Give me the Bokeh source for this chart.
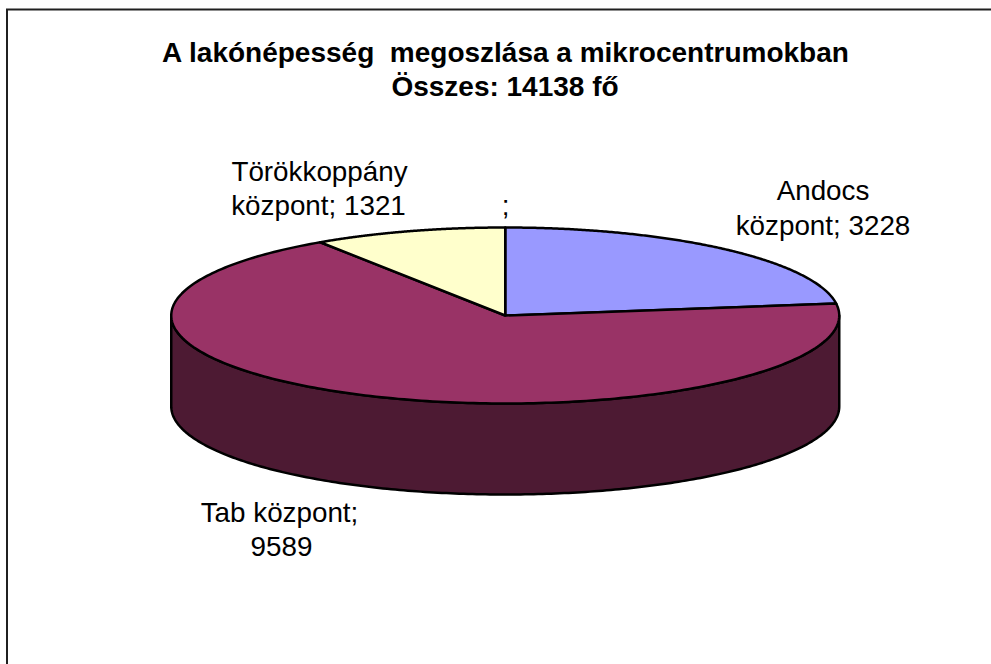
import numpy as np
from bokeh.plotting import figure
from bokeh.models import Range1d
from bokeh.core.properties import value
from bokeh.embed import file_html
from bokeh.resources import INLINE

categories = ["Andocs központ", "Tab központ", "Törökkoppány központ"]
values = [3228, 9589, 1321]
title_lines = ["A lakónépesség\u00a0 megoszlása a mikrocentrumokban", "Összes: 14138 fő"]
label_lines = [["Andocs", "központ; 3228"], ["Tab központ;", "9589"], ["Törökkoppány", "központ; 1321"], [";"]]
colors = ["#9999FF", "#993366", "#FFFFCC"]
side_color = "#4D1A33"

W, H = 991, 664
CX, CY, RX, RY, DEPTH = 504.75, 315, 334, 88, 91
FONT = "Liberation Sans"

p = figure(width=W, height=H, output_backend="svg", toolbar_location=None,
           x_range=Range1d(0, W), y_range=Range1d(H, 0), min_border=0,
           outline_line_color=None, background_fill_color="white", border_fill_color="white")
p.axis.visible = False
p.grid.visible = False


def arc(a0, a1, n=240, dy=0.0):
    t = np.radians(np.linspace(a0, a1, n))
    return CX + RX * np.sin(t), CY + dy - RY * np.cos(t)


# frame: left and top edges only
p.line([6.5, 6.5, W], [H, 9, 9], line_color="#202020", line_width=2, line_join="miter")

# side wall
xt, yt = arc(90, 270)
xb, yb = arc(270, 90, dy=DEPTH)
p.patch(np.r_[xt, xb], np.r_[yt, yb], fill_color=side_color, line_color="black",
        line_width=2.5, line_join="round")

# top slices
total = sum(values)
start = 0.0
for v, c in zip(values, colors):
    end = start + 360.0 * v / total
    x, y = arc(start, end)
    p.patch(np.r_[CX, x], np.r_[CY, y], fill_color=c, line_color="black",
            line_width=2.5, line_join="round")
    start = end

def txt(x, y, s, size, style="normal"):
    p.text([x], [y], text=[s], text_font=value(FONT), text_font_size=size,
           text_font_style=style, text_color="black", text_align="center",
           text_baseline="alphabetic")

txt(505.5, 52, title_lines[0], "28px", "bold")
txt(504.5, 86, title_lines[1], "28px", "bold")

pos = [[(822.5, 190), (822.5, 225)], [(279, 512), (281, 546)], [(319, 171), (318, 205)], [(505, 205)]]
for lines, pts in zip(label_lines, pos):
    for s, (x, y) in zip(lines, pts):
        txt(x, y, s, "27.8px")

open("out.html", "w").write(file_html(p, INLINE))
